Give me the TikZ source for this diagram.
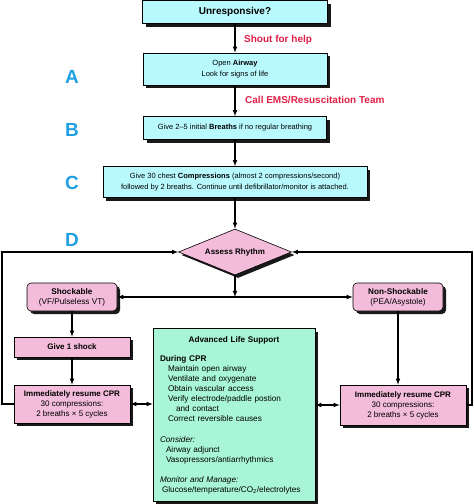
\documentclass[tikz,border=0pt]{standalone}
\usepackage{fontspec}
\setmainfont{Liberation Sans}
\usetikzlibrary{shapes.geometric,shadows}
\definecolor{boxcyan}{RGB}{184,249,254}
\definecolor{boxpink}{RGB}{242,188,218}
\definecolor{boxmint}{RGB}{168,245,216}
\definecolor{shoutred}{RGB}{222,30,70}
\definecolor{letterblue}{RGB}{32,160,228}

\begin{document}
\begin{tikzpicture}[x=1pt,y=-1pt,>=latex,
   shadowed/.style={draw=black,line width=.6pt,inner sep=0pt,align=center,
      drop shadow={shadow xshift=3pt,shadow yshift=-3pt,fill=black!90,opacity=1}},
   cyanbox/.style={shadowed,fill=boxcyan,font=\fontsize{7.5}{11}\selectfont},
   pinkbox/.style={shadowed,fill=boxpink,font=\fontsize{8}{10}\selectfont},
   roundbox/.style={pinkbox,rounded corners=4pt,font=\fontsize{8.2}{10}\selectfont},
   alsbox/.style={shadowed,fill=boxmint,align=left,text width=148pt,
      minimum width=162pt,minimum height=173pt,font=\fontsize{8.2}{10}\selectfont},
   letter/.style={text=letterblue,font=\fontsize{19}{19}\selectfont\bfseries},
   shout/.style={text=shoutred,anchor=west,inner sep=0pt,font=\fontsize{10}{10}\selectfont\bfseries},
   link/.style={line width=1.1pt}]
\useasboundingbox (0,0) rectangle (474,504);

   \node[cyanbox,minimum width=185pt,minimum height=23pt,font=\fontsize{10}{10}\selectfont\bfseries]
      (unresp) at (235,12) {Unresponsive?};
   \node[cyanbox,minimum width=184pt,minimum height=32pt] (airway) at (235,69)
      {Open \textbf{Airway}\\Look for signs of life};
   \node[cyanbox,minimum width=183pt,minimum height=23pt] (breaths) at (235,128)
      {Give 2--5 initial \textbf{Breaths} if no regular breathing};
   \node[cyanbox,minimum width=264pt,minimum height=31pt] (compress) at (235,182)
      {Give 30 chest \textbf{Compressions} (almost 2 compressions/second)\\
       followed by 2 breaths. Continue until defibrillator/monitor is attached.};
   \node[pinkbox,diamond,shape aspect=2.5,minimum width=113pt,minimum height=46pt,
      font=\fontsize{8}{10}\selectfont\bfseries] (assess) at (235,252) {Assess Rhythm};

   \node[roundbox,minimum width=90pt,minimum height=28pt] (shock) at (72,297)
      {\textbf{Shockable}\\(VF/Pulseless VT)};
   \node[roundbox,minimum width=90pt,minimum height=28pt] (nonshock) at (398,297)
      {\textbf{Non-Shockable}\\(PEA/Asystole)};
   \node[pinkbox,minimum width=116pt,minimum height=20pt,font=\fontsize{8}{10}\selectfont\bfseries]
      (give1) at (72,347) {Give 1 shock};
   \node[pinkbox,minimum width=116pt,minimum height=38pt] (cprL) at (72,404)
      {\textbf{Immediately resume CPR}\\30 compressions:\\2 breaths × 5 cycles};
   \node[pinkbox,minimum width=126pt,minimum height=40pt] (cprR) at (403,405)
      {\textbf{Immediately resume CPR}\\30 compressions:\\2 breaths × 5 cycles};

   \node[alsbox] (als) at (234,415) {%
      \makebox[148pt]{\bfseries Advanced Life Support}\\[9pt]
      {\bfseries During CPR}\\
      \hspace*{8pt}Maintain open airway\\
      \hspace*{8pt}Ventilate and oxygenate\\
      \hspace*{8pt}Obtain vascular access\\
      \hspace*{8pt}Verify electrode/paddle postion\\
      \hspace*{16pt}and contact\\
      \hspace*{8pt}Correct reversible causes\\[11pt]
      {\itshape Consider:}\\
      \hspace*{6pt}Airway adjunct\\
      \hspace*{6pt}Vasopressors/antiarrhythmics\\[10pt]
      {\itshape Monitor and Manage:}\\
      \hspace*{2pt}Glucose/temperature/CO\textsubscript{2}/electrolytes};

   \node[shout] (help) at (244,40) {Shout for help};
   \node[shout] (ems) at (245,100) {Call EMS/Resuscitation Team};

   \node[letter] (letA) at (72,77) {A};
   \node[letter] (letB) at (72,130) {B};
   \node[letter] (letC) at (72,183) {C};
   \node[letter] (letD) at (72,240) {D};

   \coordinate (split) at (235,297);
   \coordinate (fbL) at (2,252);
   \coordinate (fbR) at (472,252);

   \draw[link,->] (unresp) -- (airway);
   \draw[link,->] (airway) -- (breaths);
   \draw[link,->] (breaths) -- (compress);
   \draw[link,->] (compress) -- (assess);
   \draw[link,->] (assess) -- (split);
   \draw[link,<->] (shock) -- (nonshock);
   \draw[link,->] (shock) -- (give1);
   \draw[link,->] (give1) -- (cprL);
   \draw[link,->] (nonshock.south) -- (nonshock.south |- cprR.north);
   \draw[link,<->] (cprL.east) -- (cprL.east -| als.west);
   \draw[link,<->] (als.east |- cprR.west) -- (cprR.west);
   \draw[link,->] (cprL.west) -| (fbL) -- (assess.west);
   \draw[link,->] (cprR.east) -| (fbR) -- (assess.east);

\end{tikzpicture}
\end{document}
